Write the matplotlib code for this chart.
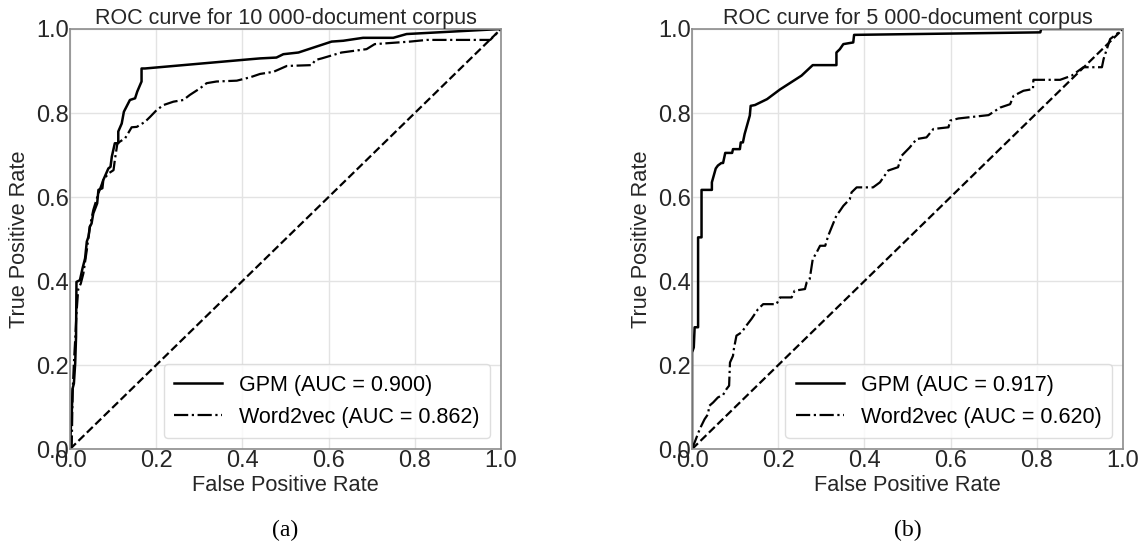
import matplotlib
matplotlib.use("Agg")
import matplotlib.pyplot as plt

# ROC curve for 10 000-document corpus (a)
gpm_a_fpr = [0.0, 0.002, 0.004, 0.006, 0.009, 0.012, 0.014, 0.015, 0.023, 0.029, 0.035,
             0.039, 0.043, 0.046, 0.050, 0.054, 0.063, 0.066, 0.075, 0.077, 0.089, 0.094,
             0.097, 0.104, 0.112, 0.112, 0.120, 0.125, 0.131, 0.139, 0.151, 0.156, 0.161,
             0.166, 0.166, 0.174, 0.418, 0.441, 0.479, 0.495, 0.530, 0.607, 0.634, 0.680,
             0.750, 0.781, 1.0]
gpm_a_tpr = [0.0, 0.053, 0.085, 0.144, 0.156, 0.204, 0.267, 0.398, 0.402, 0.430, 0.454,
             0.494, 0.506, 0.529, 0.537, 0.561, 0.585, 0.617, 0.621, 0.640, 0.668, 0.672,
             0.696, 0.728, 0.728, 0.756, 0.775, 0.803, 0.815, 0.831, 0.835, 0.851, 0.863,
             0.875, 0.906, 0.906, 0.928, 0.930, 0.932, 0.940, 0.944, 0.970, 0.972, 0.979,
             0.979, 0.988, 1.0]

w2v_a_fpr = [0.0, 0.004, 0.006, 0.009, 0.012, 0.015, 0.019, 0.025, 0.031, 0.039, 0.046,
             0.054, 0.066, 0.077, 0.089, 0.101, 0.104, 0.110, 0.116, 0.128, 0.135, 0.143,
             0.155, 0.174, 0.186, 0.201, 0.217, 0.240, 0.263, 0.278, 0.302, 0.317, 0.340,
             0.387, 0.418, 0.441, 0.472, 0.503, 0.561, 0.569, 0.584, 0.630, 0.688, 0.707,
             0.789, 0.828, 0.975, 1.0]
w2v_a_tpr = [0.0, 0.006, 0.133, 0.204, 0.260, 0.323, 0.380, 0.394, 0.418, 0.474, 0.529,
             0.569, 0.609, 0.640, 0.656, 0.664, 0.688, 0.728, 0.732, 0.740, 0.752, 0.766,
             0.767, 0.779, 0.791, 0.807, 0.819, 0.827, 0.831, 0.843, 0.859, 0.871, 0.875,
             0.877, 0.885, 0.893, 0.898, 0.912, 0.914, 0.926, 0.930, 0.944, 0.952, 0.964,
             0.970, 0.974, 0.974, 1.0]

# ROC curve for 5 000-document corpus (b)
gpm_b_fpr = [0.0, 0.0, 0.004, 0.006, 0.014, 0.014, 0.022, 0.022, 0.046, 0.046, 0.055,
             0.060, 0.068, 0.072, 0.077, 0.093, 0.095, 0.111, 0.113, 0.118, 0.122, 0.134,
             0.136, 0.146, 0.174, 0.204, 0.254, 0.280, 0.335, 0.335, 0.343, 0.351, 0.374,
             0.376, 0.808, 0.810, 1.0]
gpm_b_tpr = [0.0, 0.230, 0.242, 0.290, 0.290, 0.504, 0.504, 0.617, 0.617, 0.635, 0.668,
             0.675, 0.681, 0.681, 0.705, 0.705, 0.714, 0.714, 0.730, 0.730, 0.750, 0.794,
             0.817, 0.819, 0.833, 0.856, 0.889, 0.914, 0.914, 0.944, 0.952, 0.964, 0.968,
             0.986, 0.992, 1.0, 1.0]

w2v_b_fpr = [0.0, 0.018, 0.029, 0.037, 0.040, 0.049, 0.060, 0.072, 0.080, 0.086, 0.088,
             0.095, 0.097, 0.103, 0.115, 0.126, 0.138, 0.153, 0.165, 0.196, 0.204, 0.231,
             0.238, 0.262, 0.266, 0.273, 0.280, 0.289, 0.297, 0.309, 0.316, 0.335, 0.343,
             0.351, 0.366, 0.370, 0.382, 0.420, 0.436, 0.455, 0.478, 0.486, 0.505, 0.521,
             0.544, 0.560, 0.595, 0.599, 0.618, 0.688, 0.715, 0.738, 0.746, 0.769, 0.791,
             0.792, 0.854, 0.881, 0.908, 0.951, 0.955, 0.970, 1.0]
w2v_b_tpr = [0.0, 0.048, 0.071, 0.083, 0.103, 0.111, 0.123, 0.129, 0.143, 0.151, 0.206,
             0.222, 0.238, 0.270, 0.278, 0.294, 0.310, 0.333, 0.345, 0.345, 0.361, 0.361,
             0.377, 0.381, 0.397, 0.405, 0.452, 0.468, 0.484, 0.484, 0.508, 0.556, 0.567,
             0.579, 0.595, 0.611, 0.623, 0.623, 0.635, 0.663, 0.671, 0.698, 0.718, 0.738,
             0.742, 0.762, 0.766, 0.782, 0.787, 0.795, 0.813, 0.821, 0.841, 0.853, 0.857,
             0.879, 0.879, 0.889, 0.909, 0.909, 0.929, 0.976, 1.0]

titles = ["ROC curve for 10 000-document corpus", "ROC curve for 5 000-document corpus"]
gpm_labels = ["GPM (AUC = 0.900)", "GPM (AUC = 0.917)"]
w2v_labels = ["Word2vec (AUC = 0.862)", "Word2vec (AUC = 0.620)"]
captions = ["(a)", "(b)"]

plt.rcParams["font.family"] = ["Liberation Sans", "DejaVu Sans"]

fig = plt.figure(figsize=(11.42, 5.47), dpi=100)
positions = [[0.0613, 0.179, 0.3774, 0.768], [0.606, 0.179, 0.3774, 0.768]]
panels = [(gpm_a_fpr, gpm_a_tpr, w2v_a_fpr, w2v_a_tpr),
          (gpm_b_fpr, gpm_b_tpr, w2v_b_fpr, w2v_b_tpr)]

for i, (gx, gy, wx, wy) in enumerate(panels):
    ax = fig.add_axes(positions[i])
    ax.plot(gx, gy, color="black", lw=1.8, label=gpm_labels[i])
    ax.plot(wx, wy, color="black", lw=1.6, ls="-.", label=w2v_labels[i])
    ax.plot([0, 1], [0, 1], color="black", lw=1.6, ls="--")
    ax.set_xlim(0, 1)
    ax.set_ylim(0, 1)
    ax.set_xticks([0, 0.2, 0.4, 0.6, 0.8, 1.0])
    ax.set_yticks([0, 0.2, 0.4, 0.6, 0.8, 1.0])
    ax.grid(True, color="#e3e3e3", lw=1)
    ax.set_axisbelow(True)
    for s in ax.spines.values():
        s.set_color("#8c8c8c")
        s.set_linewidth(1.2)
    ax.tick_params(length=0, labelsize=17, colors="#262626", pad=1)
    ax.set_xlabel("False Positive Rate", fontsize=15.7, color="#262626", labelpad=2)
    ax.set_ylabel("True Positive Rate", fontsize=15.7, color="#262626", labelpad=4)
    ax.set_title(titles[i], fontsize=15.5, color="#262626", pad=1)
    leg = ax.legend(loc="lower right", fontsize=15.5, frameon=True, fancybox=True,
                    handlelength=2.2, borderpad=0.5, labelspacing=0.5)
    leg.get_frame().set_edgecolor("#d6d6d6")
    leg.get_frame().set_linewidth(1.0)
    cx = positions[i][0] + positions[i][2] / 2
    fig.text(cx, 0.031, captions[i], ha="center", va="center", fontsize=17,
             family="Liberation Serif")

fig.savefig("out.png", dpi=100)
